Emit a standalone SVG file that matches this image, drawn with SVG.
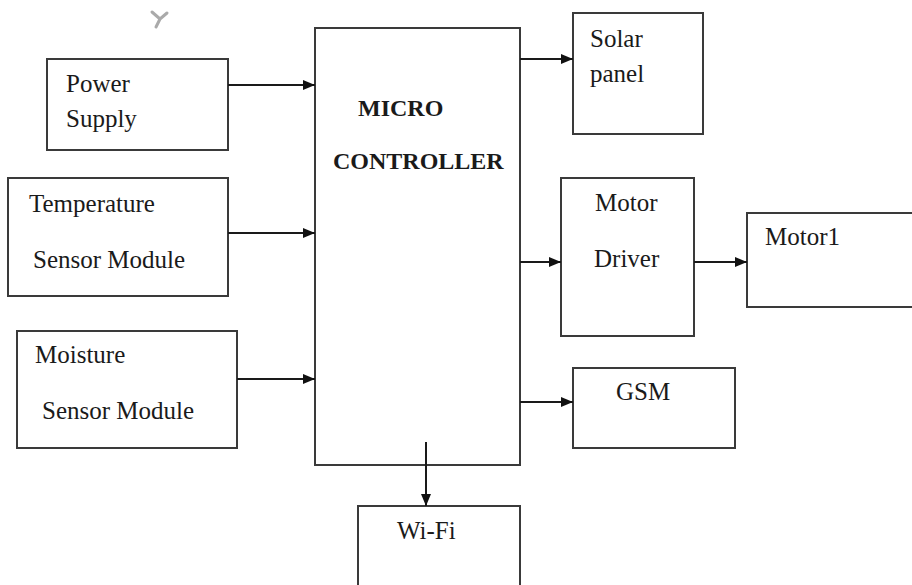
<svg xmlns="http://www.w3.org/2000/svg" width="912" height="585" viewBox="0 0 912 585">
<style>
.box{fill:#fff;stroke:#3a3a3a;stroke-width:2}
.t{font-family:"Liberation Serif","Times New Roman",serif;font-size:25px;fill:#1a1a1a}
.b{font-family:"Liberation Serif","Times New Roman",serif;font-size:24px;font-weight:bold;fill:#1a1a1a}
.c{stroke:#1a1a1a;stroke-width:2;fill:none;marker-end:url(#ah)}
</style>
<defs>
<marker id="ah" viewBox="0 0 12 10" refX="12" refY="5" markerWidth="12" markerHeight="10" markerUnits="userSpaceOnUse" orient="auto">
<path d="M0,0 L12,5 L0,10 Z" fill="#111"/>
</marker>
</defs>
<rect width="912" height="585" fill="#fff"/>
<path d="M152,12 L160,19 L167,13 M160,19 L156,27" stroke="#aaa" stroke-width="3" fill="none" stroke-linecap="round"/>
<g id="power"><rect class="box" x="47" y="59" width="181" height="91"/><text class="t" x="66" y="92">Power</text><text class="t" x="66" y="127">Supply</text></g>
<g id="temp"><rect class="box" x="8" y="178" width="220" height="118"/><text class="t" x="29" y="212">Temperature</text><text class="t" x="33" y="268">Sensor Module</text></g>
<g id="moist"><rect class="box" x="17" y="331" width="220" height="117"/><text class="t" x="35" y="363">Moisture</text><text class="t" x="42" y="419">Sensor Module</text></g>
<g id="mcu"><rect class="box" x="315" y="28" width="205" height="437"/><text class="b" x="358" y="116">MICRO</text><text class="b" x="333" y="169">CONTROLLER</text></g>
<g id="solar"><rect class="box" x="573" y="13" width="130" height="121"/><text class="t" x="590" y="47">Solar</text><text class="t" x="590" y="82">panel</text></g>
<g id="driver"><rect class="box" x="561" y="178" width="133" height="158"/><text class="t" x="595" y="211">Motor</text><text class="t" x="594" y="267">Driver</text></g>
<g id="motor1"><rect class="box" x="747" y="213" width="170" height="94"/><text class="t" x="765" y="245">Motor1</text></g>
<g id="gsm"><rect class="box" x="573" y="368" width="162" height="80"/><text class="t" x="616" y="400">GSM</text></g>
<g id="wifi"><rect class="box" x="358" y="506" width="162" height="90"/><text class="t" x="397" y="539">Wi-Fi</text></g>
<g id="connectors">
<path class="c" d="M228,85 L315,85"/>
<path class="c" d="M228,233 L315,233"/>
<path class="c" d="M237,379 L315,379"/>
<path class="c" d="M520,59 L573,59"/>
<path class="c" d="M520,262 L561,262"/>
<path class="c" d="M694,262 L747,262"/>
<path class="c" d="M520,402 L573,402"/>
<path class="c" d="M426,442 L426,506"/>
</g>
</svg>
